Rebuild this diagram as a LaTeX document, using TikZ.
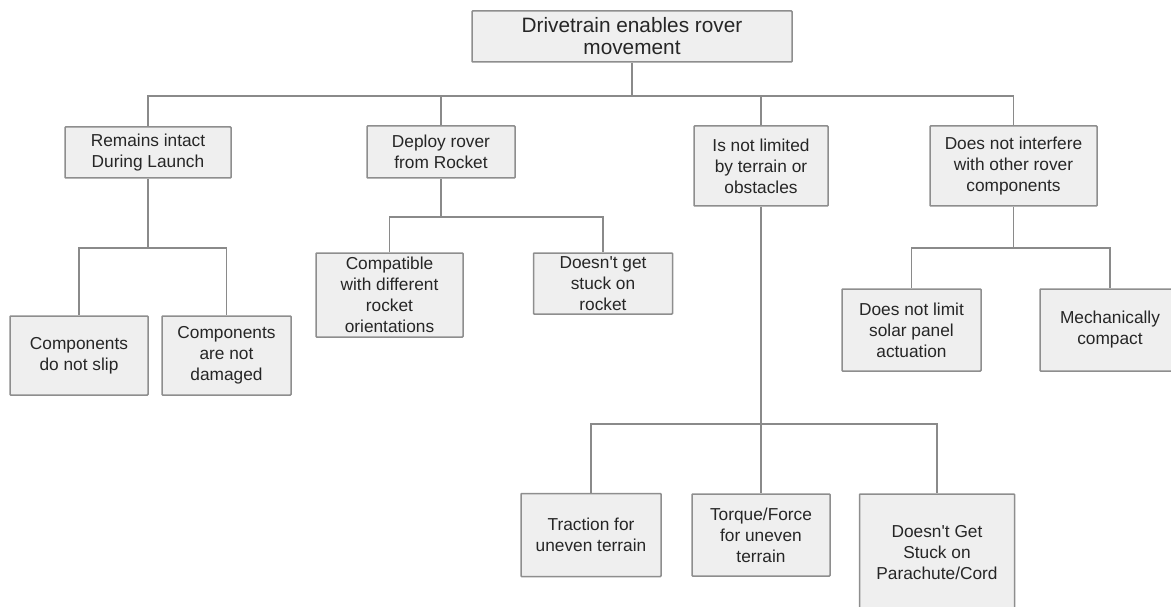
\documentclass[tikz,border=0pt]{standalone}
\usepackage{fontspec}
\setmainfont{Liberation Sans}
\usetikzlibrary{positioning}
\definecolor{boxfill}{HTML}{EFEFEF}
\definecolor{boxline}{HTML}{8E8E8E}
\definecolor{wire}{HTML}{8A8A8A}

\begin{document}
\begin{tikzpicture}[on grid, every node/.style={font=\fontsize{17.3}{21}\selectfont, text=black!85}]
% Styles for the goal boxes and the tree links
\tikzset{block/.style={draw=boxline, fill=boxfill, line width=1.5pt, rectangle, rounded corners=0.8pt, inner sep=0pt, align=center}}
\tikzset{link/.style={draw=wire, line width=1.6pt}}

\useasboundingbox (0,0) rectangle (1171pt,-607pt);

% Top goal
\node [block, minimum width=320pt, minimum height=51pt, font=\fontsize{20.8}{22}\selectfont] (root) at (632pt,-36.5pt) {Drivetrain enables rover\\movement};

% First level
\node [block, minimum width=166pt, minimum height=51pt, below left=116pt and 484pt of root] (intact) {Remains intact\\During Launch};
\node [block, minimum width=148pt, minimum height=52pt, below left=115.5pt and 191pt of root] (deploy) {Deploy rover\\from Rocket};
\node [block, minimum width=134pt, minimum height=80pt, below right=129.5pt and 129pt of root] (terrain) {Is not limited\\by terrain or\\obstacles};
\node [block, minimum width=167pt, minimum height=80pt, below right=129.5pt and 381.5pt of root] (interfere) {Does not interfere\\with other rover\\components};

% Second level
\node [block, minimum width=138pt, minimum height=79pt, below left=203pt and 69pt of intact] (noslip) {Components\\do not slip};
\node [block, minimum width=129pt, minimum height=79pt, below right=203pt and 78.5pt of intact] (nodamage) {Components\\are not\\damaged};
\node [block, minimum width=147pt, minimum height=84pt, below left=143pt and 51.5pt of deploy] (orient) {Compatible\\with different\\rocket\\orientations};
\node [block, minimum width=139pt, minimum height=61pt, below right=131.5pt and 162pt of deploy] (nostuck) {Doesn\textquotesingle t get\\stuck on\\rocket};
\node [block, minimum width=139pt, minimum height=82pt, below left=164pt and 102pt of interfere] (solar) {Does not limit\\solar panel\\actuation};
\node [block, minimum width=140pt, minimum height=82pt, below right=164pt and 96.5pt of interfere] (compact) {Mechanically\\compact};
\node [block, minimum width=140pt, minimum height=83pt, below left=369pt and 170pt of terrain] (traction) {Traction for\\uneven terrain};
\node [block, minimum width=138pt, minimum height=82pt, below=369pt of terrain] (torque) {Torque/Force\\for uneven\\terrain};
\node [block, minimum width=155pt, minimum height=118pt, below right=387pt and 176pt of terrain] (parachute) {Doesn\textquotesingle t Get\\Stuck on\\Parachute/Cord};

% Links from the top goal
\draw[link] (root.south) -- ++(0,-33pt) coordinate (rootbar);
\draw[link] (rootbar) -| (intact.north);
\draw[link] (rootbar) -| (deploy.north);
\draw[link] (rootbar) -| (terrain.north);
\draw[link] (rootbar) -| (interfere.north);

% Links below each first level goal
\draw[link] (intact.south) -- ++(0,-69pt) coordinate (intactbar);
\draw[link] (intactbar) -| (noslip.north);
\draw[link] (intactbar) -| (nodamage.north);

\draw[link] (deploy.south) -- ++(0,-38pt) coordinate (deploybar);
\draw[link] (deploybar) -| (orient.north);
\draw[link] (deploybar) -| (nostuck.north);

\draw[link] (interfere.south) -- ++(0,-41pt) coordinate (interferebar);
\draw[link] (interferebar) -| (solar.north);
\draw[link] (interferebar) -| (compact.north);

\draw[link] (terrain.south) -- ++(0,-217pt) coordinate (terrainbar);
\draw[link] (terrainbar) -| (traction.north);
\draw[link] (terrainbar) -- (torque.north);
\draw[link] (terrainbar) -| (parachute.north);

\end{tikzpicture}
\end{document}
